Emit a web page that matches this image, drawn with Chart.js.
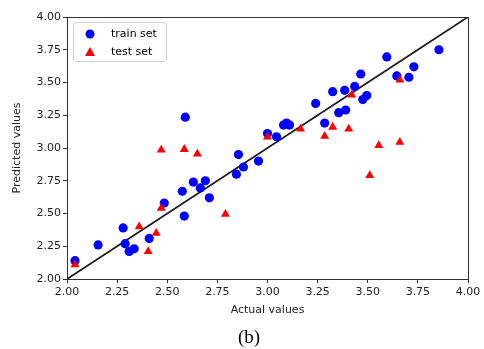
<!DOCTYPE html>
<html>
<head>
<meta charset="utf-8">
<script src="https://cdn.jsdelivr.net/npm/chart.js@4/dist/chart.umd.min.js"></script>
<style>
  html, body { margin: 0; padding: 0; background: #fff; }
  #wrap { width: 484px; height: 349px; }
</style>
</head>
<body>
<div id="wrap"><canvas id="c" width="484" height="349"></canvas></div>
<script>
// train set (actual, predicted)
const trainActual = [2.04, 2.155, 2.28, 2.29, 2.31, 2.335, 2.41, 2.485, 2.575, 2.585, 2.59, 2.63, 2.665, 2.69, 2.71,
  2.845, 2.855, 2.88, 2.955, 3.0, 3.045, 3.08, 3.095, 3.11, 3.24, 3.285, 3.325, 3.355, 3.385, 3.39,
  3.435, 3.465, 3.475, 3.495, 3.595, 3.645, 3.705, 3.73, 3.855];
const trainPred = [2.14, 2.26, 2.39, 2.27, 2.21, 2.23, 2.31, 2.58, 2.67, 2.48, 3.235, 2.74, 2.695, 2.75, 2.62,
  2.80, 2.95, 2.855, 2.90, 3.11, 3.085, 3.175, 3.19, 3.175, 3.34, 3.19, 3.43, 3.27, 3.44, 3.29,
  3.47, 3.565, 3.37, 3.40, 3.695, 3.55, 3.54, 3.62, 3.75];

// test set (actual, predicted)
const testActual = [2.04, 2.36, 2.405, 2.445, 2.47, 2.47, 2.585, 2.65, 2.79, 3.0, 3.165, 3.285, 3.325, 3.405,
  3.42, 3.51, 3.555, 3.66, 3.66];
const testPred = [2.11, 2.40, 2.21, 2.35, 2.54, 2.985, 2.99, 2.955, 2.495, 3.085, 3.145, 3.09, 3.16, 3.145,
  3.405, 2.79, 3.02, 3.045, 3.52];

// y = x reference line
const diagLine = [2.0, 4.0];

const xTicks = [2.0, 2.25, 2.5, 2.75, 3.0, 3.25, 3.5, 3.75, 4.0];
const yTicks = [2.0, 2.25, 2.5, 2.75, 3.0, 3.25, 3.5, 3.75, 4.0];

const legendItems = ['train set', 'test set'];
const caption = '(b)';

const FONT = "'DejaVu Sans', sans-serif";
const toPts = (xs, ys) => xs.map((x, i) => ({ x, y: ys[i] }));

// frame around the plot area + figure caption
const framePlugin = {
  id: 'frame',
  afterDraw(chart) {
    const { ctx, chartArea: a } = chart;
    ctx.save();
    ctx.strokeStyle = '#333';
    ctx.lineWidth = 1;
    ctx.strokeRect(Math.round(a.left) + 0.5, Math.round(a.top) + 0.5,
      Math.round(a.right - a.left), Math.round(a.bottom - a.top));

    ctx.fillStyle = '#000';
    ctx.font = "19px 'Liberation Serif', serif";
    ctx.textAlign = 'center';
    ctx.textBaseline = 'middle';
    ctx.fillText(caption, 249, 338);
    ctx.restore();
  }
};

// matplotlib-style legend box in the upper-left corner
const boxLegend = {
  id: 'boxLegend',
  afterDraw(chart) {
    const { ctx, chartArea: a } = chart;
    const x0 = a.left + 6, y0 = a.top + 5, w = 93, h = 39;
    ctx.save();
    ctx.beginPath();
    ctx.roundRect(x0 + 0.5, y0 + 0.5, w, h, 3);
    ctx.fillStyle = 'rgba(255,255,255,0.85)';
    ctx.fill();
    ctx.strokeStyle = '#d0d0d0';
    ctx.stroke();

    // circle
    ctx.fillStyle = '#0000ff';
    ctx.beginPath();
    ctx.arc(x0 + 17, y0 + 12, 4.5, 0, Math.PI * 2);
    ctx.fill();
    // triangle
    ctx.fillStyle = '#ff0000';
    ctx.beginPath();
    const tx = x0 + 17, ty = y0 + 30;
    ctx.moveTo(tx, ty - 5);
    ctx.lineTo(tx + 5, ty + 4);
    ctx.lineTo(tx - 5, ty + 4);
    ctx.closePath();
    ctx.fill();

    ctx.fillStyle = '#000';
    ctx.font = '11px ' + FONT;
    ctx.textBaseline = 'middle';
    ctx.fillText(legendItems[0], x0 + 38, y0 + 12);
    ctx.fillText(legendItems[1], x0 + 38, y0 + 30);
    ctx.restore();
  }
};

new Chart(document.getElementById('c'), {
  type: 'scatter',
  data: {
    datasets: [
      {
        label: legendItems[0],
        data: toPts(trainActual, trainPred),
        backgroundColor: '#0000ff',
        borderWidth: 0,
        pointRadius: 4.6,
        pointStyle: 'circle',
        order: 2
      },
      {
        label: legendItems[1],
        data: toPts(testActual, testPred),
        backgroundColor: '#ff0000',
        borderWidth: 0,
        pointRadius: 5.2,
        pointStyle: 'triangle',
        order: 1
      },
      {
        type: 'line',
        label: 'y = x',
        data: toPts(diagLine, diagLine),
        borderColor: '#1a1a1a',
        borderWidth: 1.8,
        pointRadius: 0,
        fill: false,
        order: 3
      }
    ]
  },
  options: {
    responsive: false,
    animation: false,
    events: [],
    layout: { padding: { top: 17, right: 16, left: 0, bottom: 30 } },
    plugins: {
      legend: { display: false },
      tooltip: { enabled: false },
      title: { display: false }
    },
    scales: {
      x: {
        type: 'linear',
        min: 2, max: 4,
        afterBuildTicks: s => { s.ticks = xTicks.map(v => ({ value: v })); },
        afterFit: s => { s.height = 40; },
        grid: { drawOnChartArea: false, drawTicks: true, tickLength: 4, color: '#333' },
        border: { display: false },
        ticks: {
          color: '#222',
          font: { family: FONT, size: 11 },
          padding: 3,
          maxRotation: 0,
          callback: v => Number(v).toFixed(2)
        },
        title: {
          display: true,
          text: 'Actual values',
          color: '#222',
          font: { family: FONT, size: 11 },
          padding: { top: 1, bottom: 2 }
        }
      },
      y: {
        type: 'linear',
        min: 2, max: 4,
        afterBuildTicks: s => { s.ticks = yTicks.map(v => ({ value: v })); },
        afterFit: s => { s.width = 67; },
        grid: { drawOnChartArea: false, drawTicks: true, tickLength: 4, color: '#333' },
        border: { display: false },
        ticks: {
          color: '#222',
          font: { family: FONT, size: 11 },
          padding: 2,
          callback: v => Number(v).toFixed(2)
        },
        title: {
          display: true,
          text: 'Predicted values',
          color: '#222',
          font: { family: FONT, size: 11 },
          padding: { top: 11, bottom: 2 }
        }
      }
    }
  },
  plugins: [framePlugin, boxLegend]
});
</script>
</body>
</html>
